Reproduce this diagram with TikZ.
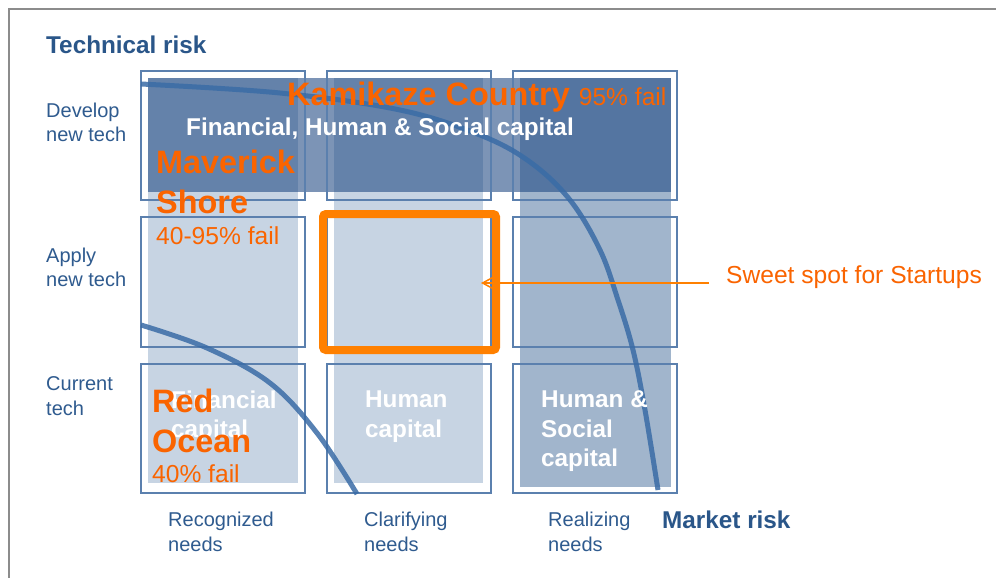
\documentclass[tikz,border=0pt]{standalone}
\usepackage{fontspec}
\setmainfont{Liberation Sans}
\usetikzlibrary{arrows.meta}
\definecolor{framegray}{HTML}{8C8C8C}
\definecolor{labelblue}{HTML}{2F5B8F}
\definecolor{titleblue}{HTML}{2A5689}
\definecolor{orangetext}{HTML}{FA6400}
\definecolor{orangebox}{HTML}{FF8000}
\definecolor{lightfill}{HTML}{C7D4E3}
\definecolor{darkfill}{HTML}{A1B5CC}
\definecolor{bandcol}{RGB}{30,72,130}
\definecolor{celldraw}{HTML}{5B80AE}
\definecolor{curvecol}{HTML}{3A6CA6}
\begin{document}
\begin{tikzpicture}[x=1pt,y=-1pt,
  cell/.style={draw=celldraw, line width=1.1pt, minimum width=164pt, inner sep=0pt, outer sep=0pt},
  lab/.style={font=\fontsize{20}{24.5}\selectfont, text=labelblue, align=left, anchor=west, inner sep=0pt},
  axis/.style={font=\bfseries\fontsize{24.3}{28}\selectfont, text=titleblue, anchor=base west, inner sep=0pt},
  wlab/.style={font=\bfseries\fontsize{24.3}{29.5}\selectfont, text=white, align=left, anchor=west, inner sep=0pt},
  obig/.style={font=\bfseries\fontsize{32.4}{40}\selectfont, text=orangetext, align=left, anchor=west, inner sep=0pt},
  osmall/.style={font=\fontsize{24.6}{28}\selectfont, text=orangetext, anchor=base west, inner sep=0pt},
  riskcurve/.style={draw=curvecol, line width=5pt, opacity=0.85}
]
\useasboundingbox (0,0) rectangle (996,578);
\fill[white] (0,0) rectangle (996,578);
\draw[framegray, line width=2.5pt] (9,578) -- (9,9) -- (996,9);

% column fills
\fill[lightfill] (148,78) rectangle (298,483);
\fill[lightfill] (334,78) rectangle (483,483);
\fill[darkfill] (520,78) rectangle (671,487);
% top band
\fill[bandcol, opacity=0.58] (148,78) rectangle (671,192);

% cells
\node[cell, minimum height=129pt] (c11) at (223,135.5) {};
\node[cell, minimum height=129pt] (c12) at (409,135.5) {};
\node[cell, minimum height=129pt] (c13) at (595,135.5) {};
\node[cell, minimum height=130pt] (c21) at (223,282) {};
\node[cell, minimum height=130pt] (c22) at (409,282) {};
\node[cell, minimum height=130pt] (c23) at (595,282) {};
\node[cell, minimum height=129pt] (c31) at (223,428.5) {};
\node[cell, minimum height=129pt] (c32) at (409,428.5) {};
\node[cell, minimum height=129pt] (c33) at (595,428.5) {};

% sweet spot box
\draw[orangebox, line width=8pt, rounded corners=3pt] (323,214) rectangle (496,350);

% risk curves
\draw[riskcurve] plot[smooth, tension=0.6] coordinates {(141,84) (280,93) (400,110) (480,135) (530,162) (570,200) (600,250) (618,300) (633,350) (645,410) (658,490)};
\draw[riskcurve] plot[smooth, tension=0.6] coordinates {(141,325) (207,348) (270,383) (317,433) (357,494)};

% axis titles
\node[axis] (techrisk) at (46,53.5) {Technical risk};
\node[axis] (marketrisk) at (662,528) {Market risk};

% row labels
\node[lab] (r1) at (46,122.3) {Develop\\new tech};
\node[lab] (r2) at (46,267.3) {Apply\\new tech};
\node[lab] (r3) at (46,396) {Current\\tech};
% column labels
\node[lab] (k1) at (168,532) {Recognized\\needs};
\node[lab] (k2) at (364,532) {Clarifying\\needs};
\node[lab] (k3) at (548,532) {Realizing\\needs};

% white capital labels
\node[wlab, anchor=base west] (band) at (186,135) {Financial, Human \& Social capital};
\node[wlab] (fin) at (171,416.7) {Financial\\capital};
\node[wlab] (hum) at (365,416.8) {Human\\capital};
\node[wlab] (hums) at (541,431.5) {Human \&\\Social\\capital};

% orange zone labels
\node[obig, anchor=base west] (kami) at (287,105) {Kamikaze Country {\mdseries\fontsize{24.6}{28}\selectfont 95\% fail}};
\node[obig] (mav) at (156,182) {Maverick\\Shore};
\node[osmall] (mavf) at (156,244.5) {40-95\% fail};
\node[obig] (red) at (152,420.5) {Red\\Ocean};
\node[osmall] (redf) at (152,482) {40\% fail};

% sweet spot
\node[osmall] (sweet) at (726,283) {Sweet spot for Startups};
\coordinate (arrowstart) at (709,283);
\coordinate (arrowtip) at (481,283);
\draw[orangebox, line width=1.5pt, -{Straight Barb[length=12pt,width=13pt]}] (arrowstart) -- (arrowtip);
\end{tikzpicture}
\end{document}
